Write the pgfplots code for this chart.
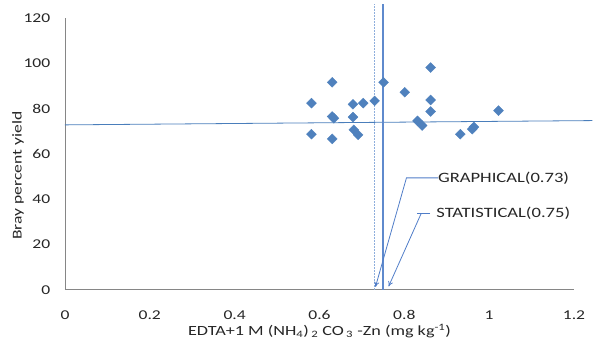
\documentclass[border=0pt]{standalone}
\usepackage{pgfplots}
\pgfplotsset{compat=1.18}
\usepackage{fontspec}
\setmainfont{Carlito}[FakeStretch=1.3]
\usetikzlibrary{arrows.meta}
\definecolor{mk}{HTML}{4F81BD}
\definecolor{ln}{HTML}{4A7EBB}
\definecolor{lnv}{RGB}{80,125,200}
\definecolor{lnvv}{RGB}{95,138,205}
\definecolor{lnl}{HTML}{8EAEDC}
\definecolor{ax}{HTML}{868686}
\definecolor{tx}{HTML}{262626}
\begin{document}
\fontsize{13.5}{16}\selectfont
\begin{tikzpicture}
\begin{axis}[
  scale only axis, width=509.5pt, height=272pt,
  xmin=0, xmax=1.2, ymin=0, ymax=120,
  xtick={0,0.2,0.4,0.6,0.8,1,1.2}, ytick={0,20,40,60,80,100,120},
  axis lines=left, axis line style={-, color=ax, line width=0.8pt},
  major tick length=0pt,
  tick label style={font=\fontsize{13.5}{16}\selectfont, color=tx},
  /pgf/number format/assume math mode=true,
  xticklabel style={yshift=-16pt},
  yticklabel style={xshift=-10pt},
  xlabel={EDTA+1 M (NH\textsubscript{4})\,\textsubscript{2} CO\,\textsubscript{3} -Zn (mg kg\textsuperscript{-1})},
  xlabel style={at={(rel axis cs:0.5,0)}, anchor=center, yshift=-41pt, color=tx, font=\fontsize{14}{16}\selectfont},
  ylabel={Bray percent yield},
  ylabel style={at={(rel axis cs:0,0.42)}, anchor=center, yshift=47pt, color=tx, font=\fontsize{13.5}{16}\selectfont},
  clip=false,
]
% trend line
\addplot[draw=ln, line width=0.8pt] coordinates {(0,72.8) (1.2435,74.7)};
% vertical lines
\addplot[draw=lnl, line width=1.3pt, dash pattern=on 2pt off 1pt] coordinates {(0.73,0) (0.73,126.2)};
\addplot[draw=lnvv, line width=1.5pt] coordinates {(0.75,0) (0.75,126.2)};
% data
\addplot[only marks, mark=square*, mark size=3.5pt, mark options={rotate=45, fill=mk, draw=mk}] coordinates {
(0.581,82.4) (0.630,91.6) (0.630,76.5) (0.634,75.7) (0.581,68.7) (0.630,66.6)
(0.679,81.9) (0.703,82.4) (0.730,83.4) (0.679,76.2) (0.681,70.6) (0.691,68.4)
(0.751,91.6) (0.801,87.2) (0.862,98.1) (0.862,83.8) (0.862,78.7) (0.831,74.6)
(0.842,72.5) (0.932,68.7) (0.960,70.9) (0.964,71.9) (1.022,79.1)
};
% annotation arrows
\addplot[draw=lnv, line width=0.8pt, -{To[length=5pt,width=5pt]}] coordinates {(0.879,49.4) (0.805,49.4) (0.732,1.3)};
\addplot[draw=lnv, line width=0.8pt] coordinates {(0.861,33.8) (0.830,33.8)};
\addplot[draw=lnv, line width=0.8pt, -{To[length=5pt,width=5pt]}] coordinates {(0.840,33.8) (0.763,1.5)};
\node[anchor=west, text=tx, inner sep=0pt, font=\fontsize{14.3}{16}\selectfont] at (axis cs:0.879,49.4) {GRAPHICAL(0.73)};
\node[anchor=west, text=tx, inner sep=0pt, font=\fontsize{14.3}{16}\selectfont] at (axis cs:0.875,33.8) {STATISTICAL(0.75)};
\end{axis}
\path ([shift={(-65pt,-51pt)}]current axis.south west) rectangle ([shift={(19pt,18pt)}]current axis.north east);
\end{tikzpicture}
\end{document}
